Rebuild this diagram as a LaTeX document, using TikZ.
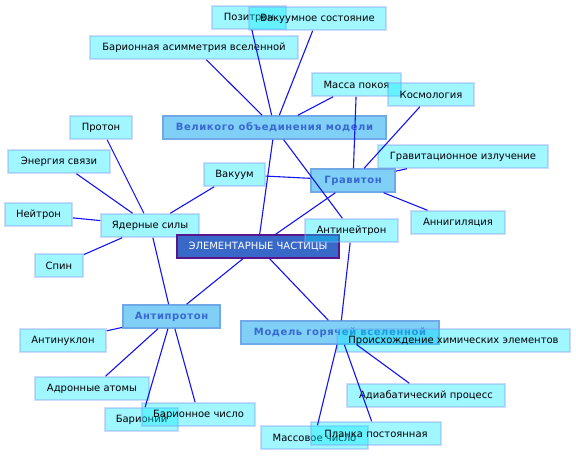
\documentclass[tikz,border=0pt]{standalone}
\usepackage{fontspec}
\setmainfont{DejaVu Sans}
\newfontfamily\bsp[LetterSpace=6]{DejaVu Sans}
\definecolor{lfill}{RGB}{0,235,255}
\definecolor{ldraw}{RGB}{128,160,240}
\definecolor{dfill}{RGB}{0,160,240}
\definecolor{ddraw}{RGB}{112,168,232}
\definecolor{dtext}{RGB}{56,104,208}
\definecolor{efill}{RGB}{56,104,200}
\definecolor{edraw}{RGB}{90,20,140}
\definecolor{lnk}{RGB}{20,20,240}
\tikzset{
  lbox/.style={rectangle, inner sep=0pt, minimum height=23bp, fill=lfill, fill opacity=0.37, draw=ldraw, draw opacity=0.37, line width=1.5bp, text opacity=1, font=\fontsize{10bp}{12bp}\selectfont, text=black},
  dbox/.style={rectangle, inner sep=0pt, minimum height=23bp, fill=dfill, fill opacity=0.5, draw=ddraw, line width=1.5bp, text opacity=1, font=\fontsize{10bp}{12bp}\selectfont\bsp\bfseries, text=dtext},
  ebox/.style={rectangle, inner sep=0pt, minimum height=23bp, fill=efill, draw=edraw, line width=1.5bp, font=\fontsize{10bp}{12bp}\selectfont, text=white},
  link/.style={draw=lnk, line width=1.1bp}
}
\begin{document}
\begin{tikzpicture}[x=1bp, y=-1bp]
\useasboundingbox (0,0) rectangle (576,456);
\fill[white] (0,0) rectangle (576,456);
% nodes
\node[lbox, minimum width=74bp] (pos) at (249,17.5) {Позитрон};
\node[lbox, minimum width=137bp] (vac) at (317.5,18.5) {Вакуумное состояние};
\node[lbox, minimum width=208bp] (bar) at (194,47.5) {Барионная асимметрия вселенной};
\node[lbox, minimum width=89bp] (mass) at (356.5,84.5) {Масса покоя};
\node[lbox, minimum width=86bp] (cosm) at (431,94.5) {Космология};
\node[dbox, minimum width=223bp] (gut) at (274.5,127.5) {Великого объединения модели};
\node[lbox, minimum width=62bp] (prot) at (101,127.5) {Протон};
\node[lbox, minimum width=102bp] (ener) at (59,161.5) {Энергия связи};
\node[lbox, minimum width=170bp] (grad) at (463,156.5) {Гравитационное излучение};
\node[lbox, minimum width=61bp] (vacu) at (234.5,174.5) {Вакуум};
\node[dbox, minimum width=84bp] (grav) at (353,180.5) {Гравитон};
\node[lbox, minimum width=67bp] (neut) at (38.5,214.5) {Нейтрон};
\node[lbox, minimum width=98bp] (nucl) at (150,225.5) {Ядерные силы};
\node[lbox, minimum width=94bp] (ann) at (458,222.5) {Аннигиляция};
\node[ebox, minimum width=162bp] (elem) at (258,246.5) {ЭЛЕМЕНТАРНЫЕ ЧАСТИЦЫ};
\node[lbox, minimum width=93bp] (antin) at (351.5,230.5) {Антинейтрон};
\node[lbox, minimum width=48bp] (spin) at (59,265.5) {Спин};
\node[dbox, minimum width=97bp] (antip) at (171.5,316.5) {Антипротон};
\node[dbox, minimum width=198bp] (hot) at (340,332.5) {Модель горячей вселенной};
\node[lbox, minimum width=86bp] (antinuc) at (63,340.5) {Антинуклон};
\node[lbox, minimum width=233bp] (orig) at (453.5,340.5) {Происхождение химических элементов};
\node[lbox, minimum width=114bp] (hadr) at (92,388.5) {Адронные атомы};
\node[lbox, minimum width=158bp] (adia) at (426,395.5) {Адиабатический процесс};
\node[lbox, minimum width=73bp] (baryon) at (141.5,419.5) {Барионий};
\node[lbox, minimum width=113bp] (barnum) at (198.5,414.5) {Барионное число};
\node[lbox, minimum width=107bp] (massn) at (314.5,437.5) {Массовое число};
\node[lbox, minimum width=130bp] (planck) at (376,433.5) {Планка постоянная};
% links
\draw[link] (gut) -- (bar);
\draw[link] (gut) -- (pos);
\draw[link] (gut) -- (vac);
\draw[link] (gut) -- (mass);
\draw[link] (gut) -- (elem);
\draw[link] (gut) -- (antin);
\draw[link] (grav) -- (mass);
\draw[link] (grav) -- (cosm);
\draw[link] (grav) -- (grad);
\draw[link] (grav) -- (vacu);
\draw[link] (grav) -- (ann);
\draw[link] (grav) -- (elem);
\draw[link] (nucl) -- (prot);
\draw[link] (nucl) -- (ener);
\draw[link] (nucl) -- (neut);
\draw[link] (nucl) -- (spin);
\draw[link] (nucl) -- (vacu);
\draw[link] (nucl) -- (antip);
\draw[link] (elem) -- (antip);
\draw[link] (elem) -- (hot);
\draw[link] (antin) -- (hot);
\draw[link] (antip) -- (antinuc);
\draw[link] (antip) -- (hadr);
\draw[link] (antip) -- (baryon);
\draw[link] (antip) -- (barnum);
\draw[link] (hot) -- (adia);
\draw[link] (hot) -- (massn);
\draw[link] (hot) -- (planck);
\end{tikzpicture}
\end{document}
